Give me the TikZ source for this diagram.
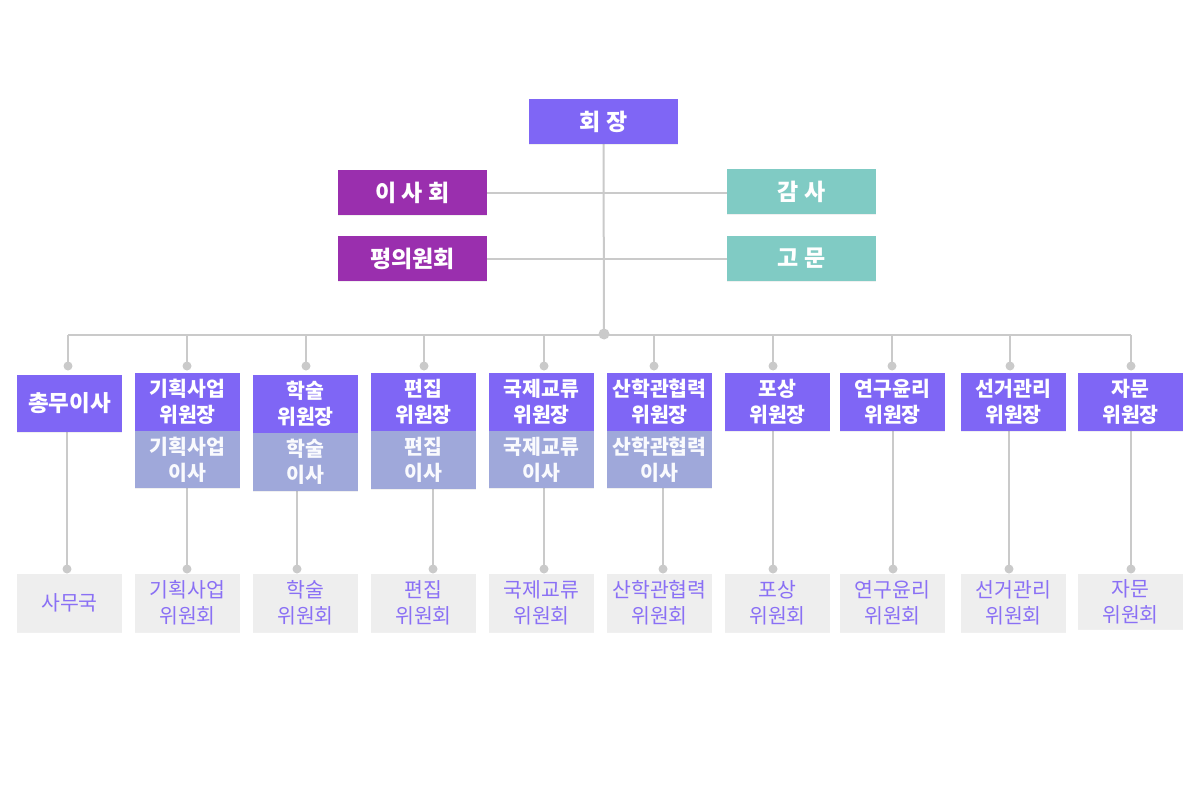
\documentclass[tikz,border=0pt]{standalone}
\usepackage{fontspec}
\setmainfont{Noto Sans CJK KR}
\usetikzlibrary{shadows,backgrounds}
\definecolor{pv}{RGB}{127,102,245}
\definecolor{mg}{RGB}{154,47,174}
\definecolor{tl}{RGB}{128,203,196}
\definecolor{sb}{RGB}{159,168,218}
\definecolor{bt}{RGB}{238,238,238}
\definecolor{btx}{RGB}{138,112,245}
\definecolor{ln}{RGB}{202,202,202}
\begin{document}
\begin{tikzpicture}[x=1pt,y=-1pt,
  box/.style={rectangle, inner sep=0pt, align=center, text=white,
    font=\fontsize{20.5}{26}\selectfont\bfseries,
    drop shadow={opacity=0.12, shadow xshift=0pt, shadow yshift=-1.2pt}},
  headbox/.style={box, minimum width=149pt, minimum height=45pt, font=\fontsize{23}{26}\selectfont\bfseries},
  chief/.style={box, fill=pv, minimum width=105pt, minimum height=58pt},
  subbox/.style={box, fill=sb, text=white!94!sb, minimum width=105pt, minimum height=57pt},
  comm/.style={box, fill=bt, text=btx, minimum width=105pt, minimum height=58pt, font=\fontsize{20.5}{26}\selectfont},
  conn/.style={draw=ln, line width=2pt},
  dot/.style={fill=ln}
]
\useasboundingbox (0,0) rectangle (1200,800);

% top
\node[headbox, fill=pv] (pres) at (603.5,121.5) {회 장};
\node[headbox, fill=mg] (board) at (412.5,192.5) {이 사 회};
\node[headbox, fill=tl] (audit) at (801.5,191.5) {감 사};
\node[headbox, fill=mg] (council) at (412.5,258.5) {평의원회};
\node[headbox, fill=tl] (advisor) at (801.5,258.5) {고 문};

% chiefs
\node[chief, minimum height=57pt, font=\fontsize{22.5}{26}\selectfont\bfseries] (c1) at (69.5,403.5) {총무이사};
\node[chief] (c2) at (187.5,402) {기획사업\\위원장};
\node[subbox] (s2) at (187.5,459.5) {기획사업\\이사};
\node[chief] (c3) at (305.5,404) {학술\\위원장};
\node[subbox, minimum height=58pt] (s3) at (305.5,462) {학술\\이사};
\node[chief] (c4) at (423.5,402) {편집\\위원장};
\node[subbox, minimum height=58pt] (s4) at (423.5,460) {편집\\이사};
\node[chief] (c5) at (541.5,402) {국제교류\\위원장};
\node[subbox] (s5) at (541.5,459.5) {국제교류\\이사};
\node[chief] (c6) at (659.5,402) {산학관협력\\위원장};
\node[subbox] (s6) at (659.5,459.5) {산학관협력\\이사};
\node[chief] (c7) at (777.5,402) {포상\\위원장};
\node[chief] (c8) at (892.5,402) {연구윤리\\위원장};
\node[chief] (c9) at (1013.5,402) {선거관리\\위원장};
\node[chief] (c10) at (1130.5,402) {자문\\위원장};

% committees
\node[comm] (b1) at (69.5,603) {사무국};
\node[comm] (b2) at (187.5,603) {기획사업\\위원회};
\node[comm] (b3) at (305.5,603) {학술\\위원회};
\node[comm] (b4) at (423.5,603) {편집\\위원회};
\node[comm] (b5) at (541.5,603) {국제교류\\위원회};
\node[comm] (b6) at (659.5,603) {산학관협력\\위원회};
\node[comm] (b7) at (777.5,603) {포상\\위원회};
\node[comm] (b8) at (892.5,603) {연구윤리\\위원회};
\node[comm] (b9) at (1013.5,603) {선거관리\\위원회};
\node[comm, minimum height=55pt] (b10) at (1130.5,601.5) {자문\\위원회};

% coordinates
\coordinate (hub) at (604,334);
\coordinate (busL) at (68,335);
\coordinate (busR) at (1131,335);
\foreach \i/\x in {1/68,2/187,3/306,4/424,5/544,6/654,7/773,8/892,9/1010,10/1131}
  \coordinate (t\i) at (\x,366);
\foreach \i/\x in {1/67,2/187,3/297,4/433,5/544,6/663,7/773,8/893,9/1009,10/1131}
  \coordinate (d\i) at (\x,569);

\begin{scope}[on background layer]
\draw[conn] (pres.south) -- (hub);
\draw[conn] (board.east) -- (audit.west |- board.east);
\draw[conn] (council.east) -- (advisor.west);
\draw[conn] (busL) -- (busR);
\foreach \i in {1,...,10} \draw[conn] (t\i |- busL) -- (t\i);
\draw[conn] (c1.south -| d1) -- (d1);
\foreach \i in {2,...,6} \draw[conn] (s\i.south -| d\i) -- (d\i);
\foreach \i in {7,...,10} \draw[conn] (c\i.south -| d\i) -- (d\i);
\end{scope}
\fill[dot] (hub) circle (5.5);
\foreach \i in {1,...,10} {\fill[dot] (t\i) circle (4.5); \fill[dot] (d\i) circle (4.5);}
\end{tikzpicture}
\end{document}
